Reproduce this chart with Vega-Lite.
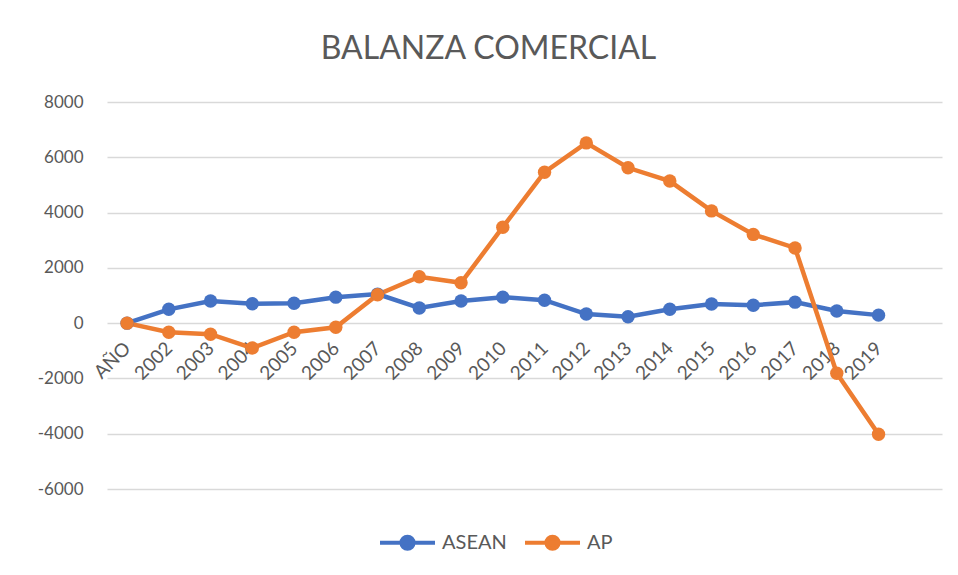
{
  "$schema": "https://vega.github.io/schema/vega-lite/v6.json",
  "autosize": "none",
  "width": 835,
  "height": 387,
  "padding": {"left": 107, "top": 102, "right": 16, "bottom": 86},
  "background": "white",
  "title": {
    "text": "BALANZA COMERCIAL",
    "font": "Lato",
    "fontSize": 32,
    "fontWeight": "normal",
    "color": "#595959",
    "anchor": "middle",
    "dx": -36,
    "offset": 27
  },
  "data": {
    "values": [
      {"anio": "AÑO", "serie": "ASEAN", "valor": 0},
      {"anio": "2002", "serie": "ASEAN", "valor": 500},
      {"anio": "2003", "serie": "ASEAN", "valor": 800},
      {"anio": "2004", "serie": "ASEAN", "valor": 700},
      {"anio": "2005", "serie": "ASEAN", "valor": 720},
      {"anio": "2006", "serie": "ASEAN", "valor": 940},
      {"anio": "2007", "serie": "ASEAN", "valor": 1050},
      {"anio": "2008", "serie": "ASEAN", "valor": 550},
      {"anio": "2009", "serie": "ASEAN", "valor": 800},
      {"anio": "2010", "serie": "ASEAN", "valor": 940},
      {"anio": "2011", "serie": "ASEAN", "valor": 830},
      {"anio": "2012", "serie": "ASEAN", "valor": 330},
      {"anio": "2013", "serie": "ASEAN", "valor": 230},
      {"anio": "2014", "serie": "ASEAN", "valor": 500},
      {"anio": "2015", "serie": "ASEAN", "valor": 690},
      {"anio": "2016", "serie": "ASEAN", "valor": 650},
      {"anio": "2017", "serie": "ASEAN", "valor": 760},
      {"anio": "2018", "serie": "ASEAN", "valor": 440},
      {"anio": "2019", "serie": "ASEAN", "valor": 290},
      {"anio": "AÑO", "serie": "AP", "valor": 0},
      {"anio": "2002", "serie": "AP", "valor": -330},
      {"anio": "2003", "serie": "AP", "valor": -400},
      {"anio": "2004", "serie": "AP", "valor": -900},
      {"anio": "2005", "serie": "AP", "valor": -330},
      {"anio": "2006", "serie": "AP", "valor": -150},
      {"anio": "2007", "serie": "AP", "valor": 1030},
      {"anio": "2008", "serie": "AP", "valor": 1680},
      {"anio": "2009", "serie": "AP", "valor": 1460},
      {"anio": "2010", "serie": "AP", "valor": 3470},
      {"anio": "2011", "serie": "AP", "valor": 5460},
      {"anio": "2012", "serie": "AP", "valor": 6520},
      {"anio": "2013", "serie": "AP", "valor": 5620},
      {"anio": "2014", "serie": "AP", "valor": 5140},
      {"anio": "2015", "serie": "AP", "valor": 4060},
      {"anio": "2016", "serie": "AP", "valor": 3210},
      {"anio": "2017", "serie": "AP", "valor": 2720},
      {"anio": "2018", "serie": "AP", "valor": -1810},
      {"anio": "2019", "serie": "AP", "valor": -4020}
    ]
  },
  "mark": {
    "type": "line",
    "strokeWidth": 4.5,
    "point": {"filled": true, "size": 180, "opacity": 1}
  },
  "encoding": {
    "x": {
      "field": "anio",
      "type": "ordinal",
      "sort": null,
      "scale": {"type": "point", "padding": 1, "align": 0.24},
      "axis": {
        "title": null,
        "offset": -166,
        "domain": false,
        "ticks": false,
        "grid": false,
        "labelAngle": -45,
        "labelAlign": "right",
        "labelBaseline": "middle",
        "labelPadding": 22,
        "labelFont": "Lato",
        "labelFontSize": 19,
        "labelColor": "#595959",
        "labelOverlap": false
      }
    },
    "y": {
      "field": "valor",
      "type": "quantitative",
      "scale": {"domain": [-6000, 8000], "nice": false, "zero": false},
      "axis": {
        "title": null,
        "values": [-6000, -4000, -2000, 0, 2000, 4000, 6000, 8000],
        "labelExpr": "toString(datum.value)",
        "domain": false,
        "ticks": false,
        "grid": true,
        "gridColor": "#D9D9D9",
        "gridWidth": 1.5,
        "labelPadding": 24,
        "labelFont": "Lato",
        "labelFontSize": 17,
        "labelColor": "#595959"
      }
    },
    "color": {
      "field": "serie",
      "type": "nominal",
      "sort": ["ASEAN", "AP"],
      "scale": {"domain": ["ASEAN", "AP"], "range": ["#4472C4", "#ED7D31"]},
      "legend": {
        "title": null,
        "orient": "none",
        "direction": "horizontal",
        "legendX": 271,
        "legendY": 411,
        "symbolType": "M-1,0L1,0M-0.22,0A0.22,0.22,0,1,1,0.22,0A0.22,0.22,0,1,1,-0.22,0",
        "symbolSize": 3025,
        "symbolStrokeWidth": 4,
        "symbolFillColor": "#4472C4",
        "labelFont": "Lato",
        "labelFontSize": 20,
        "labelColor": "#595959",
        "labelOffset": 5,
        "columnPadding": 10,
        "encode": {
          "symbols": {"update": {"fill": {"scale": "color", "field": "value"}}}
        }
      }
    }
  },
  "config": {"view": {"stroke": null}}
}
